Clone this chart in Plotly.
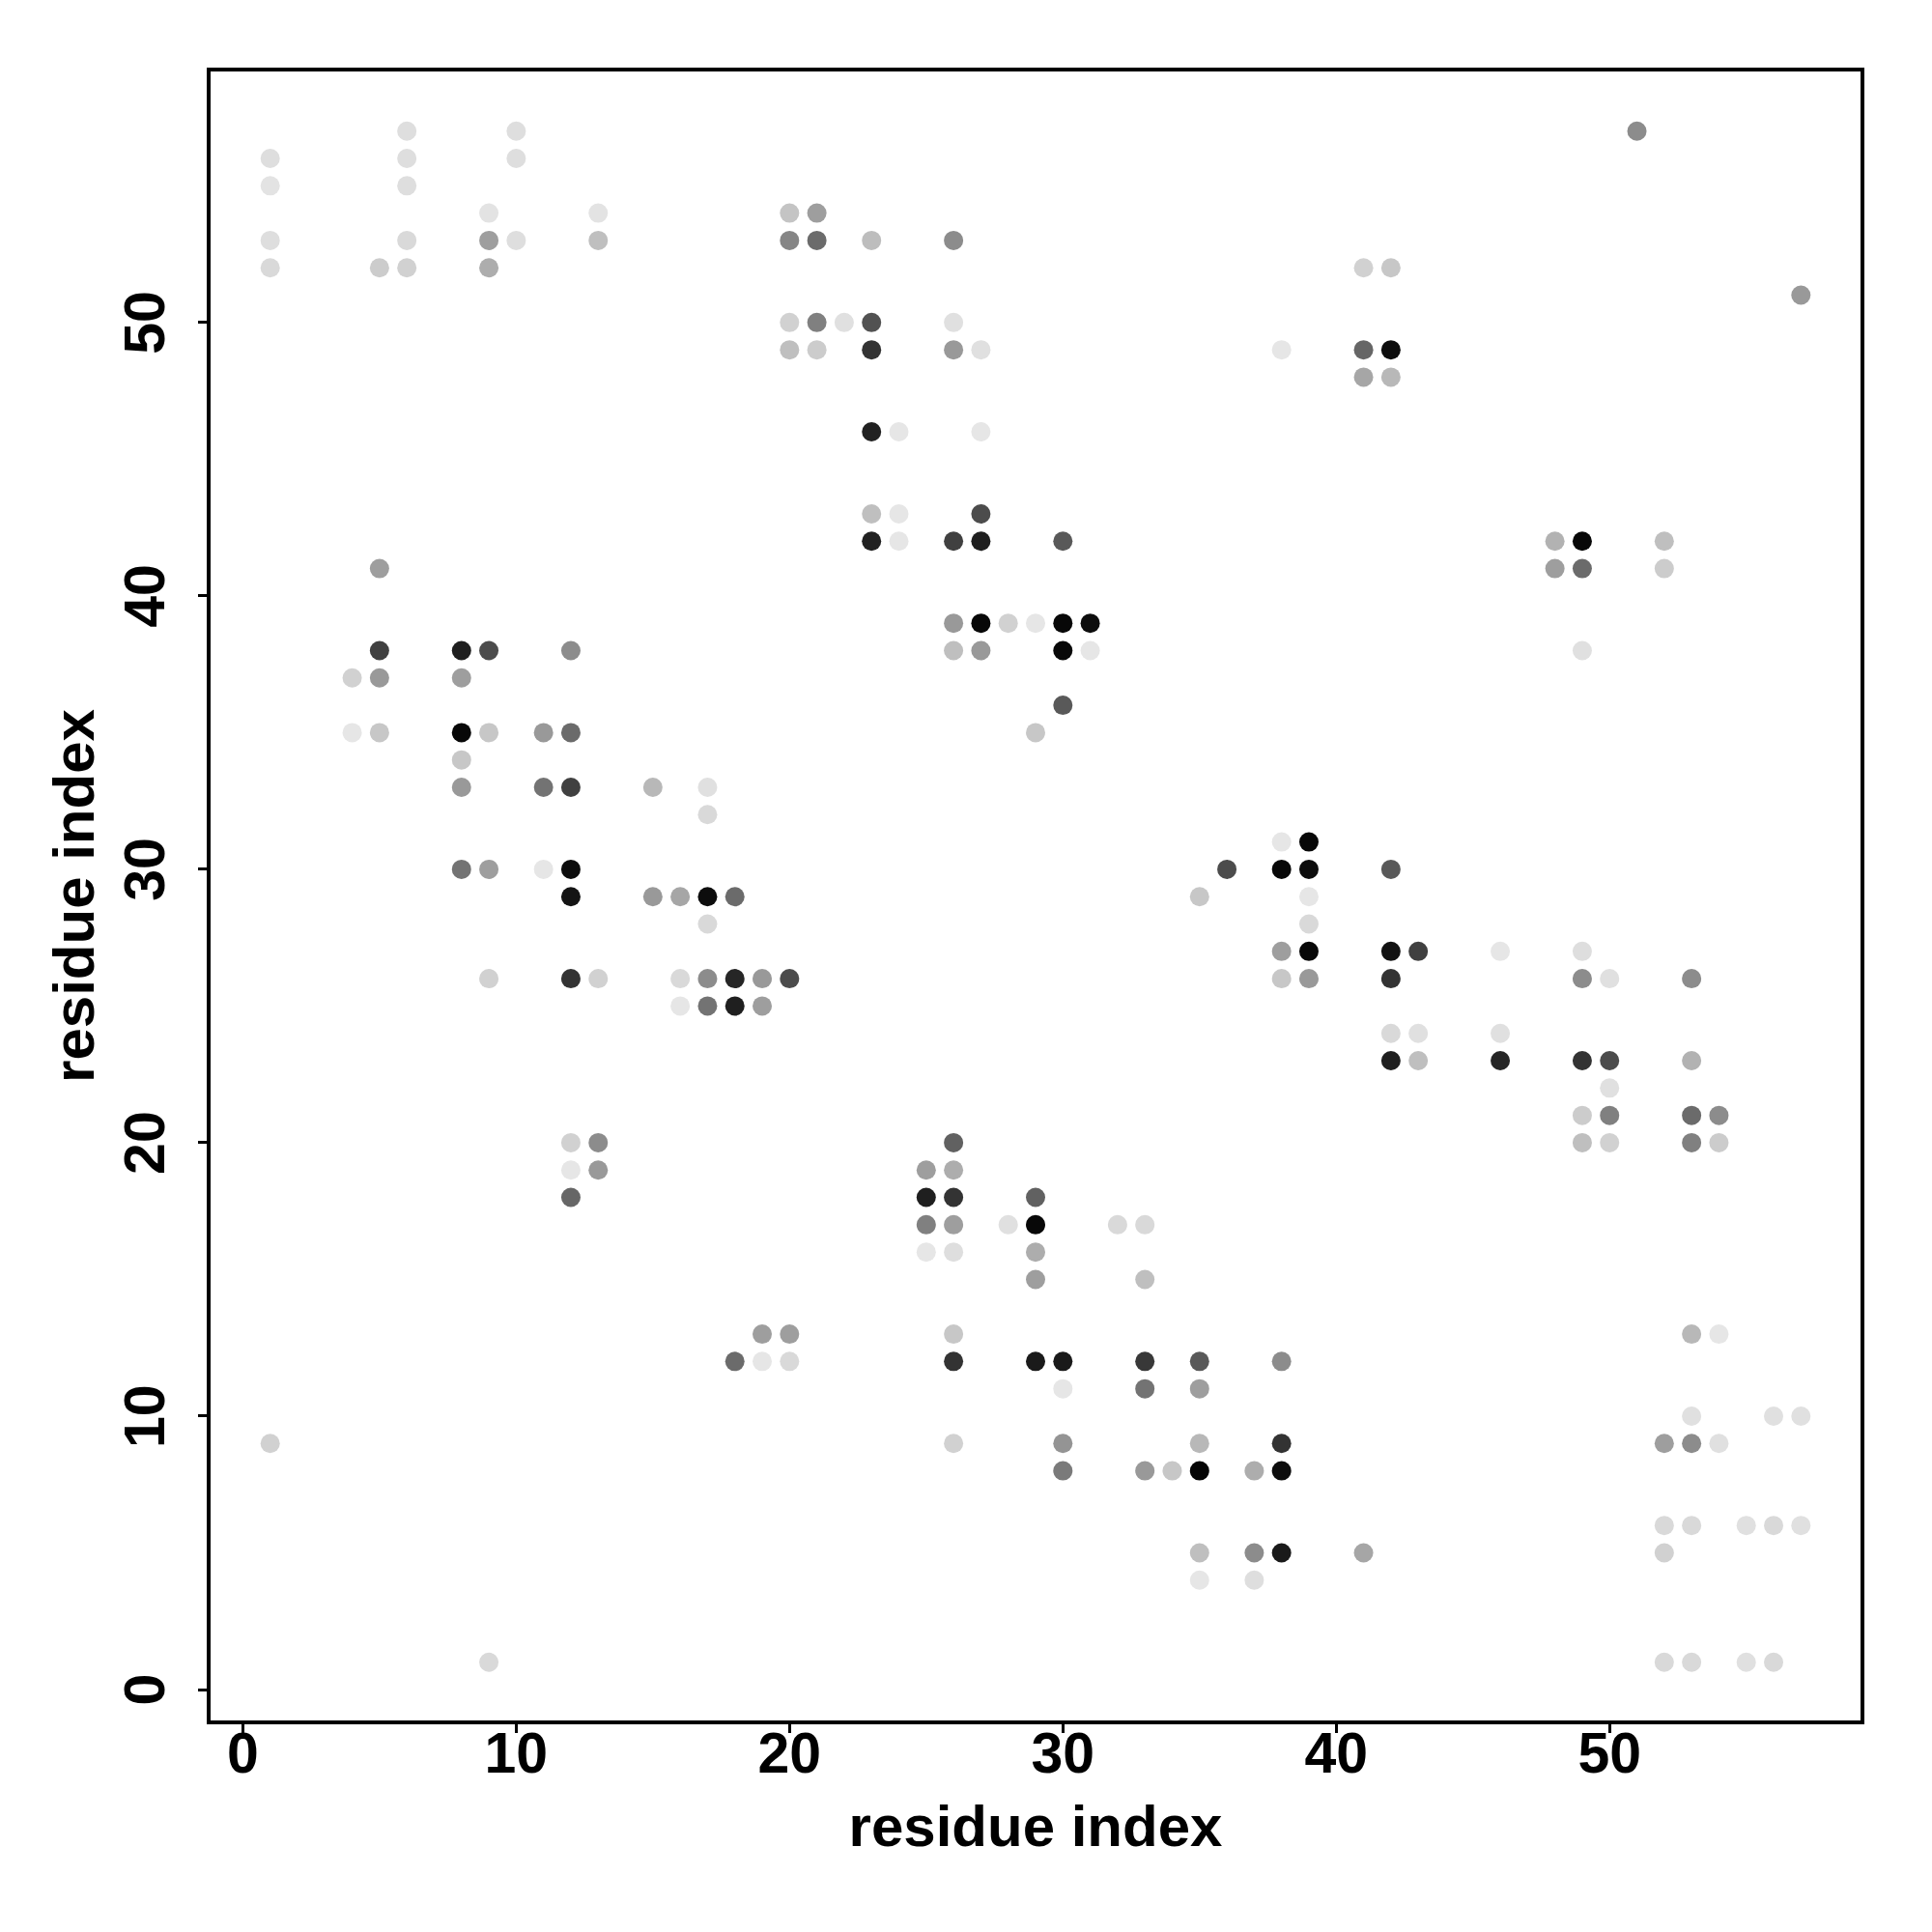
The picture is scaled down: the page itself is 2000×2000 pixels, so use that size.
import plotly.graph_objects as go

# rows: residue j -> (residue i, gray level)
row_y = [57,56,55,54,53,52,51,50,49,48,46,43,42,41,39,38,37,36,35,34,33,32,31,30,29,28,27,26,25,24,23,22,21,20,19,18,17,16,15,13,12,11,10,9,8,6,5,4,1]
row_x = [
 [6,10,51],[1,6,10],[1,6],[9,13,20,21],[1,6,9,10,13,20,21,23,26],[1,5,6,9,41,42],[57],
 [20,21,22,23,26],[20,21,23,26,27,38,41,42],[41,42],[23,24,27],[23,24,27],
 [23,24,26,27,30,48,49,52],[5,48,49,52],[26,27,28,29,30,31],[5,8,9,12,26,27,30,31,49],
 [4,5,8],[30],[4,5,8,9,11,12,29],[8],[8,11,12,15,17],[17],[38,39],
 [8,9,11,12,36,38,39,42],[12,15,16,17,18,35,39],[17,39],[38,39,42,43,46,49],
 [9,12,13,16,17,18,19,20,38,39,42,49,50,53],[16,17,18,19],[42,43,46],[42,43,46,49,50,53],[50],
 [49,50,53,54],[12,13,26,49,50,53,54],[12,13,25,26],[12,25,26,29],[25,26,28,29,32,33],[25,26,29],[29,33],
 [19,20,26,53,54],[18,19,20,26,29,30,33,35,38],[30,33,35],[53,56,57],[1,26,30,35,38,52,53,54],
 [30,33,34,35,37,38],[52,53,55,56,57],[35,37,38,41,52],[35,37],[9,52,53,55,56],
]
row_gray = [
 [.87,.87,.55],[.87,.87,.87],[.89,.87],[.89,.89,.77,.62],[.87,.85,.62,.87,.75,.52,.42,.74,.55],[.85,.8,.82,.68,.82,.78],[.6],
 [.82,.5,.88,.32,.88],[.75,.8,.2,.6,.88,.9,.4,.05],[.65,.72],[.13,.9,.9],[.75,.9,.3],
 [.13,.9,.25,.12,.35,.7,.03,.75],[.62,.62,.42,.8],[.6,.03,.82,.9,.03,.05],[.25,.12,.3,.55,.75,.6,.03,.9,.88],
 [.82,.6,.62],[.35],[.9,.78,.03,.78,.6,.42,.78],[.78],[.6,.45,.25,.72,.88],[.85],[.9,.03],
 [.45,.62,.9,.05,.3,.03,.05,.35],[.08,.6,.65,.05,.42,.78,.9],[.85,.85],[.62,.03,.07,.25,.9,.87],
 [.82,.2,.82,.85,.55,.15,.6,.3,.78,.6,.2,.55,.88,.55],[.9,.45,.12,.62],[.85,.88,.88],[.12,.75,.15,.2,.3,.7],[.88],
 [.8,.5,.42,.55],[.82,.55,.38,.75,.82,.5,.8],[.9,.6,.62,.68],[.4,.12,.2,.38],[.5,.62,.88,.03,.85,.85],[.9,.87,.68],[.62,.75],
 [.62,.62,.78,.72,.9],[.42,.9,.85,.2,.1,.1,.22,.35,.55],[.9,.45,.62],[.88,.88,.88],[.82,.82,.58,.72,.2,.62,.55,.88],
 [.48,.6,.78,.02,.68,.05],[.85,.85,.88,.85,.88],[.75,.55,.1,.65,.82],[.9,.87],[.85,.85,.85,.88,.85],
]
x_ticks = [0,10,20,30,40,50]
y_ticks = [0,10,20,30,40,50]
x_title = "residue index"
y_title = "residue index"

xs, ys, cs = [], [], []
for j, rx, rg in zip(row_y, row_x, row_gray):
    for i, g in zip(rx, rg):
        v = round(g * 255)
        xs.append(i); ys.append(j); cs.append(f"rgb({v},{v},{v})")

FONT = "Liberation Sans"
W, H = 2000, 2000
L, R, T, B = 209.5, 81.5, 65.5, 226.5

fig = go.Figure(go.Scatter(x=xs, y=ys, mode="markers",
    marker=dict(size=20, color=cs, line=dict(width=0)), showlegend=False))

axis = dict(tickmode="array", tickvals=x_ticks, ticktext=[str(t) for t in x_ticks],
    showgrid=False, zeroline=False, showline=True, linecolor="black", linewidth=3.5, mirror=True,
    ticks="outside", ticklen=9, tickwidth=3, tickcolor="black",
    tickfont=dict(family=FONT, size=59, color="black", weight=700))
tf = dict(family=FONT, size=60, color="black", weight=700)
fig.update_xaxes(**axis, range=[-1.18, 59.18], ticklabelstandoff=-30, title=dict(text=x_title, font=tf, standoff=23))
fig.update_yaxes(**axis, range=[-1.13, 59.18], ticklabelstandoff=12, ticklabelshift=9, tickangle=-90, title=dict(text=y_title, font=tf, standoff=1))
fig.update_layout(width=W, height=H, margin=dict(l=L, r=R, t=T, b=B, autoexpand=False),
    paper_bgcolor="white", plot_bgcolor="white")
fig.write_html("out.html")
